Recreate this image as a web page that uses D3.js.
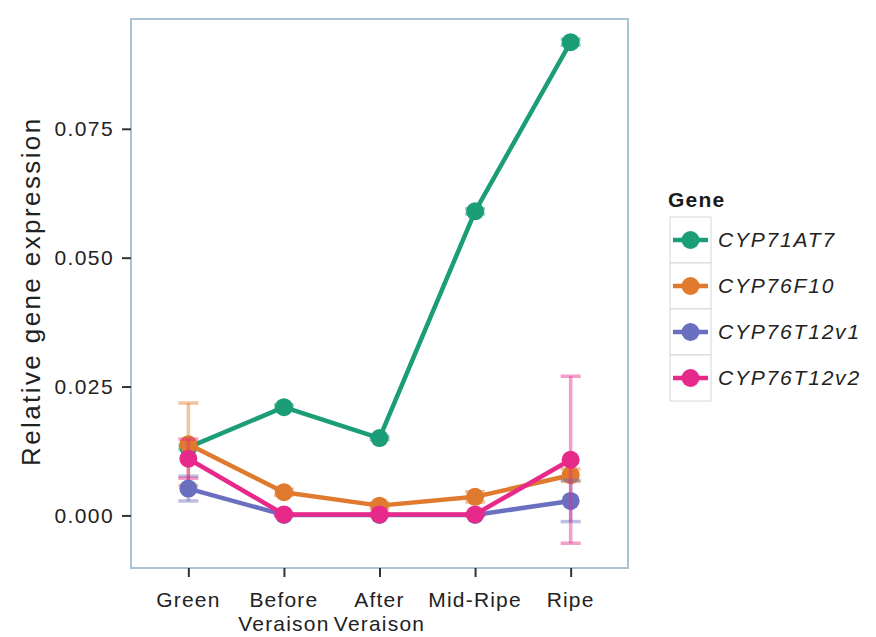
<!DOCTYPE html>
<html lang="en">
<head>
    <meta charset="UTF-8">
    <title>Relative gene expression</title>
    <script src="https://cdn.jsdelivr.net/npm/d3@7"></script>
    <style>
        body { margin: 0; background: #fff; }
        text { font-family: "Liberation Sans", Arial, sans-serif; }
    </style>
</head>
<body>
    <div id="container"></div>
    <script>
        const width = 876;
        const height = 637;
        const margin = { top: 19, left: 131, right: 248, bottom: 69 };

        // stages (x categories), two-line labels
        const stages = ['Green', 'Before Veraison', 'After Veraison', 'Mid-Ripe', 'Ripe'];
        const stageLabels = [['Green'], ['Before', 'Veraison'], ['After', 'Veraison'], ['Mid-Ripe'], ['Ripe']];
        const genes = ['CYP71AT7', 'CYP76F10', 'CYP76T12v1', 'CYP76T12v2'];
        const colors = ['#1b9e77', '#e07a2e', '#6a6fc0', '#e7298a'];

        // mean expression per gene, per stage
        const cyp71at7 = [0.0132, 0.0210, 0.0150, 0.0590, 0.0918];
        const cyp76f10 = [0.0138, 0.0045, 0.0019, 0.0036, 0.0078];
        const cyp76t12v1 = [0.0052, 0.0001, 0.0001, 0.0001, 0.0028];
        const cyp76t12v2 = [0.0110, 0.0002, 0.0002, 0.0002, 0.0108];
        // error (+/-) per gene, per stage
        const err71at7 = [0.0004, 0.0004, 0.0003, 0.0005, 0.0006];
        const err76f10 = [0.0080, 0.0006, 0.0006, 0.0010, 0.0012];
        const err76t12v1 = [0.0024, 0.0001, 0.0001, 0.0001, 0.0040];
        const err76t12v2 = [0.0038, 0.0002, 0.0002, 0.0002, 0.0162];

        const yTicks = [0, 0.025, 0.05, 0.075];

        const series = [
            { gene: genes[0], values: cyp71at7, errs: err71at7 },
            { gene: genes[1], values: cyp76f10, errs: err76f10 },
            { gene: genes[2], values: cyp76t12v1, errs: err76t12v1 },
            { gene: genes[3], values: cyp76t12v2, errs: err76t12v2 }
        ];

        const color = d3.scaleOrdinal().domain(genes).range(colors);

        const plotW = width - margin.left - margin.right;
        const plotH = height - margin.top - margin.bottom;

        // discrete scale with ggplot-style 0.6 expansion
        const x = d3.scalePoint().domain(stages).range([0, plotW]).padding(0.6);
        const y = d3.scaleLinear().domain([-0.0102, 0.0963]).range([plotH, 0]);

        const svg = d3.select('#container').append('svg')
            .attr('width', width)
            .attr('height', height);

        const chart = svg.append('g').attr('transform', `translate(${margin.left},${margin.top})`);

        chart.append('rect')
            .attr('width', plotW)
            .attr('height', plotH)
            .attr('fill', '#fff')
            .attr('stroke', '#a9c4d3')
            .attr('stroke-width', 2);

        // y axis
        const yAxis = chart.append('g')
            .call(d3.axisLeft(y).tickValues(yTicks).tickFormat(d3.format('.3f')).tickSize(9).tickPadding(8));
        yAxis.select('.domain').remove();
        yAxis.selectAll('line').attr('stroke', '#333').attr('stroke-width', 2);
        yAxis.selectAll('text')
            .attr('font-size', 21)
            .attr('letter-spacing', 1.4)
            .attr('fill', '#222');

        // x axis
        const xAxis = chart.append('g')
            .attr('transform', `translate(0,${plotH})`)
            .call(d3.axisBottom(x).tickSize(9).tickFormat(''));
        xAxis.select('.domain').remove();
        xAxis.selectAll('line').attr('stroke', '#333').attr('stroke-width', 2);

        chart.append('g')
            .selectAll('text')
            .data(stages)
            .join('text')
            .attr('x', d => x(d))
            .attr('y', plotH + 24)
            .attr('text-anchor', 'middle')
            .attr('font-size', 21)
            .attr('letter-spacing', 1.2)
            .attr('fill', '#222')
            .selectAll('tspan')
            .data((d, i) => stageLabels[i])
            .join('tspan')
            .attr('x', function () { return d3.select(this.parentNode).attr('x'); })
            .attr('dy', (d, i) => i === 0 ? '0.71em' : '1.15em')
            .text(d => d);

        svg.append('text')
            .attr('transform', `translate(40,${margin.top + y(0.0435)}) rotate(-90)`)
            .attr('text-anchor', 'middle')
            .attr('font-size', 26)
            .attr('letter-spacing', 2.4)
            .attr('fill', '#222')
            .text('Relative gene expression');

        const line = d3.line()
            .x((d, i) => x(stages[i]))
            .y(d => y(d));

        const groups = chart.selectAll('g.series')
            .data(series)
            .join('g')
            .attr('class', 'series');

        // error bars
        groups.each(function (s) {
            const g = d3.select(this);
            const c = color(s.gene);
            const eb = g.append('g').attr('stroke', c).attr('stroke-opacity', 0.45).attr('stroke-width', 3.5);
            s.values.forEach((v, i) => {
                const cx = x(stages[i]);
                const lo = y(v - s.errs[i]);
                const hi = y(v + s.errs[i]);
                eb.append('line').attr('x1', cx).attr('x2', cx).attr('y1', lo).attr('y2', hi);
                eb.append('line').attr('x1', cx - 10).attr('x2', cx + 10).attr('y1', lo).attr('y2', lo);
                eb.append('line').attr('x1', cx - 10).attr('x2', cx + 10).attr('y1', hi).attr('y2', hi);
            });
        });

        groups.append('path')
            .attr('d', s => line(s.values))
            .attr('fill', 'none')
            .attr('stroke', s => color(s.gene))
            .attr('stroke-width', 4.5)
            .attr('stroke-linejoin', 'round');

        groups.selectAll('circle')
            .data(s => s.values.map(v => ({ gene: s.gene, v })))
            .join('circle')
            .attr('cx', (d, i) => x(stages[i]))
            .attr('cy', d => y(d.v))
            .attr('r', 9)
            .attr('fill', d => color(d.gene));

        // legend
        const legend = svg.append('g').attr('transform', 'translate(668,0)');
        legend.append('text')
            .attr('x', 0)
            .attr('y', 207)
            .attr('font-size', 21)
            .attr('font-weight', 'bold')
            .attr('letter-spacing', 1.2)
            .attr('fill', '#1a1a1a')
            .text('Gene');

        const rowH = 46;
        const items = legend.selectAll('g.item')
            .data(genes)
            .join('g')
            .attr('class', 'item')
            .attr('transform', (d, i) => `translate(0,${217 + i * rowH})`);

        items.append('rect')
            .attr('x', 2)
            .attr('y', 0)
            .attr('width', 41)
            .attr('height', rowH)
            .attr('fill', '#fff')
            .attr('stroke', '#d0d8de')
            .attr('stroke-width', 1);

        items.append('line')
            .attr('x1', 5)
            .attr('x2', 40)
            .attr('y1', rowH / 2)
            .attr('y2', rowH / 2)
            .attr('stroke', d => color(d))
            .attr('stroke-width', 4.5);

        items.append('circle')
            .attr('cx', 22.5)
            .attr('cy', rowH / 2)
            .attr('r', 9)
            .attr('fill', d => color(d));

        items.append('text')
            .attr('x', 50)
            .attr('y', rowH / 2)
            .attr('dy', '0.35em')
            .attr('font-size', 21)
            .attr('font-style', 'italic')
            .attr('letter-spacing', 1.8)
            .attr('fill', '#222')
            .text(d => d);
    </script>
</body>
</html>
